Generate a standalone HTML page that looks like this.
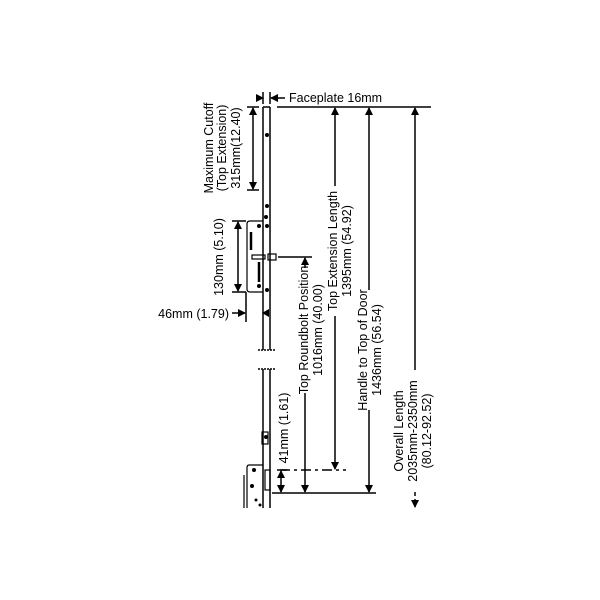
<!DOCTYPE html>
<html><head><style>
html,body{margin:0;padding:0;background:#fff;}
svg{display:block}
text{font-family:"Liberation Sans",Arial,sans-serif;font-size:12.5px;fill:#000}
</style></head><body>
<svg width="600" height="600" viewBox="0 0 600 600">
<defs>
<marker id="a" markerWidth="8" markerHeight="8" refX="7" refY="4" orient="auto" markerUnits="userSpaceOnUse">
<path d="M0,0 L8,4 L0,8 z" fill="#000"/></marker>
</defs>
<g stroke="#000" fill="none" stroke-width="1.5">
<line x1="263" y1="107" x2="263" y2="350"/>
<line x1="270" y1="107" x2="270" y2="350"/>
<line x1="263" y1="107" x2="270" y2="107"/>
<line x1="258" y1="350" x2="275" y2="350" stroke-dasharray="2,1"/>
<line x1="258" y1="369" x2="275" y2="369" stroke-dasharray="2,1"/>
<line x1="263" y1="369" x2="263" y2="508"/>
<line x1="270" y1="369" x2="270" y2="508"/>
<path d="M263,221 L250,221 Q247,221 247,224 L247,289 Q247,292 250,292 L263,292" stroke-width="1.2"/>
<line x1="251" y1="232" x2="251" y2="250" stroke-width="2.5"/>
<line x1="259" y1="262" x2="259" y2="282" stroke-width="2.5"/>
<rect x="252" y="255" width="13" height="4" stroke-width="1.2"/>
<rect x="268" y="254" width="8" height="6" stroke-width="1.2"/>
<path d="M263,465 L249,465 Q247,465 247,468 L247,508" stroke-width="1.2"/>
<rect x="262" y="432" width="6" height="12" stroke-width="1.2"/>
<rect x="265" y="470" width="5" height="20" stroke-width="1.2"/>
<line x1="244" y1="475" x2="244" y2="508" stroke-width="1.2"/>
<line x1="256" y1="98" x2="263" y2="98" marker-end="url(#a)"/>
<line x1="263" y1="92" x2="263" y2="104"/>
<line x1="270" y1="92" x2="270" y2="104"/>
<line x1="285" y1="98" x2="271" y2="98" marker-end="url(#a)"/>
<line x1="277" y1="107" x2="431" y2="107"/>
<line x1="247" y1="107" x2="259" y2="107"/>
<line x1="247" y1="190" x2="259" y2="190"/>
<line x1="253" y1="150" x2="253" y2="108" marker-end="url(#a)"/>
<line x1="253" y1="150" x2="253" y2="189" marker-end="url(#a)"/>
<line x1="232" y1="221" x2="246" y2="221"/>
<line x1="232" y1="292" x2="246" y2="292"/>
<line x1="238" y1="256" x2="238" y2="222" marker-end="url(#a)"/>
<line x1="238" y1="256" x2="238" y2="291" marker-end="url(#a)"/>
<line x1="246" y1="292" x2="246" y2="322"/>
<line x1="232" y1="313" x2="245" y2="313" marker-end="url(#a)"/>
<line x1="335" y1="186" x2="335" y2="108" marker-end="url(#a)"/>
<line x1="335" y1="316" x2="335" y2="469" marker-end="url(#a)"/>
<line x1="280" y1="470" x2="346" y2="470" stroke-dasharray="10,4,3,4"/>
<line x1="369" y1="290" x2="369" y2="108" marker-end="url(#a)"/>
<line x1="369" y1="410" x2="369" y2="492" marker-end="url(#a)"/>
<line x1="272" y1="493" x2="376" y2="493"/>
<line x1="415" y1="370" x2="415" y2="108" marker-end="url(#a)"/>
<line x1="415" y1="492" x2="415" y2="507" stroke-dasharray="4,3" marker-end="url(#a)"/>
<line x1="278" y1="257" x2="312" y2="257"/>
<line x1="305" y1="268" x2="305" y2="258" marker-end="url(#a)"/>
<line x1="305" y1="393" x2="305" y2="492" marker-end="url(#a)"/>
<line x1="277" y1="470" x2="287" y2="470"/>
<line x1="281" y1="482" x2="281" y2="471" marker-end="url(#a)"/>
<line x1="281" y1="482" x2="281" y2="492" marker-end="url(#a)"/>
</g>
<g fill="#000">
<circle cx="267" cy="135" r="2"/><circle cx="267" cy="206" r="2"/>
<circle cx="266" cy="217" r="2"/><circle cx="259" cy="226" r="2"/><circle cx="267" cy="226" r="2"/>
<circle cx="259" cy="286" r="2"/><circle cx="267" cy="290" r="2"/>
<path d="M262,313 L269,309 L269,317z"/>
<circle cx="266" cy="437" r="2"/><circle cx="254" cy="470" r="2"/><circle cx="252" cy="486" r="2"/><circle cx="256" cy="500" r="1.5"/><circle cx="260" cy="505" r="1.5"/>
</g>
<text x="289" y="102">Faceplate 16mm</text>
<text x="229" y="318" text-anchor="end">46mm (1.79)</text>
<g text-anchor="middle">
<text transform="translate(213,148) rotate(-90)">Maximum Cutoff</text>
<text transform="translate(226,148) rotate(-90)">(Top Extension)</text>
<text transform="translate(240,148) rotate(-90)">315mm(12.40)</text>
<text transform="translate(223,257) rotate(-90)">130mm (5.10)</text>
<text transform="translate(337,251) rotate(-90)">Top Extension Length</text>
<text transform="translate(351,251) rotate(-90)">1395mm (54.92)</text>
<text transform="translate(367,350) rotate(-90)">Handle to Top of Door</text>
<text transform="translate(381,350) rotate(-90)">1436mm (56.54)</text>
<text transform="translate(308,330) rotate(-90)">Top Roundbolt Position</text>
<text transform="translate(322,330) rotate(-90)">1016mm (40.00)</text>
<text transform="translate(403,431) rotate(-90)">Overall Length</text>
<text transform="translate(417,431) rotate(-90)">2035mm-2350mm</text>
<text transform="translate(431,431) rotate(-90)">(80.12-92.52)</text>
<text transform="translate(288,428) rotate(-90)">41mm (1.61)</text>
</g>
</svg>
</body></html>
